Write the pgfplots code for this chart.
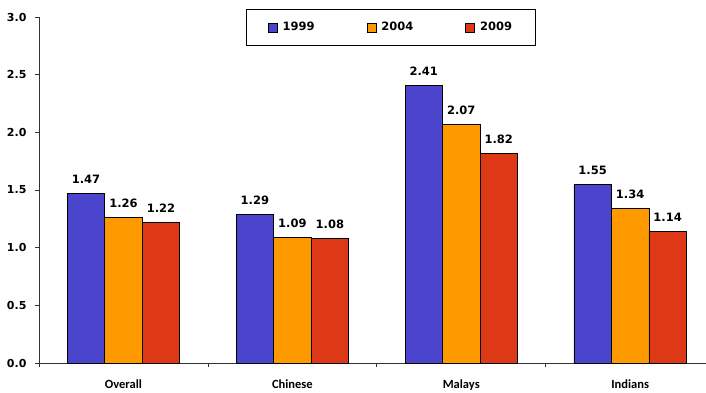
\documentclass[border=0pt]{standalone}
\usepackage{fontspec}
\setmainfont{DejaVu Sans}
\newfontfamily\catfont{Carlito}
\usepackage{pgfplots}
\pgfplotsset{compat=1.18}

\definecolor{c1999}{RGB}{74,69,204}
\definecolor{c2004}{RGB}{255,153,0}
\definecolor{c2009}{RGB}{222,57,22}

\begin{document}
\begin{tikzpicture}
\useasboundingbox (-39pt,-29pt) rectangle (667pt,363pt);
\begin{axis}[
  at={(0pt,0pt)}, anchor=south west,
  scale only axis,
  width=675.6pt, height=346pt,
  xmin=-0.5, xmax=3.5,
  ymin=0, ymax=3,
  clip=false,
  axis x line=bottom, axis y line=left,
  axis line style={-, line width=0.8pt, black!80},
  ybar=0pt, bar width=0.222,
  xtick={0,1,2,3},
  xticklabels={Overall,Chinese,Malays,Indians},
  minor xtick={-0.5,0.5,1.5,2.5,3.5},
  major x tick style={draw=none},
  minor x tick style={line width=0.8pt, black!80},
  minor tick length=4pt,
  ytick={0,0.5,...,3.0},
  major y tick style={line width=0.8pt, black!80},
  major tick length=4pt,
  tick align=outside,
  xticklabel style={font=\catfont\bfseries\fontsize{12.5}{14}\selectfont, inner sep=0pt, yshift=-12.5pt},
  yticklabel style={font=\bfseries\fontsize{11}{13}\selectfont, xshift=-5pt},
  /pgf/number format/assume math mode=true,
  yticklabel={\pgfmathprintnumber[fixed,fixed zerofill,precision=1]{\tick}},
  nodes near coords,
  nodes near coords style={font=\bfseries\fontsize{11.5}{13}\selectfont, anchor=south, yshift=6pt,
    /pgf/number format/.cd, fixed, fixed zerofill, precision=2, assume math mode=true},
  every axis plot/.append style={draw=black, line width=0.8pt},
  legend columns=3,
  legend style={
    at={(axis description cs:0.521,1.0231)}, anchor=north,
    draw=black, line width=0.8pt,
    font=\bfseries\fontsize{11.5}{13}\selectfont,
    inner xsep=21pt, inner ysep=11pt,
    /tikz/every odd column/.append style={column sep=3pt},
    /tikz/every even column/.append style={column sep=50pt},
  },
  legend image code/.code={\draw[#1, line width=0.8pt] (0pt,-4.5pt) rectangle (9pt,4.5pt);},
]
\addplot[fill=c1999] coordinates {(0,1.47) (1,1.29) (2,2.41) (3,1.55)};
\addplot[fill=c2004] coordinates {(0,1.26) (1,1.09) (2,2.07) (3,1.34)};
\addplot[fill=c2009] coordinates {(0,1.22) (1,1.08) (2,1.82) (3,1.14)};
\legend{1999,2004,2009}
\end{axis}
\end{tikzpicture}
\end{document}
